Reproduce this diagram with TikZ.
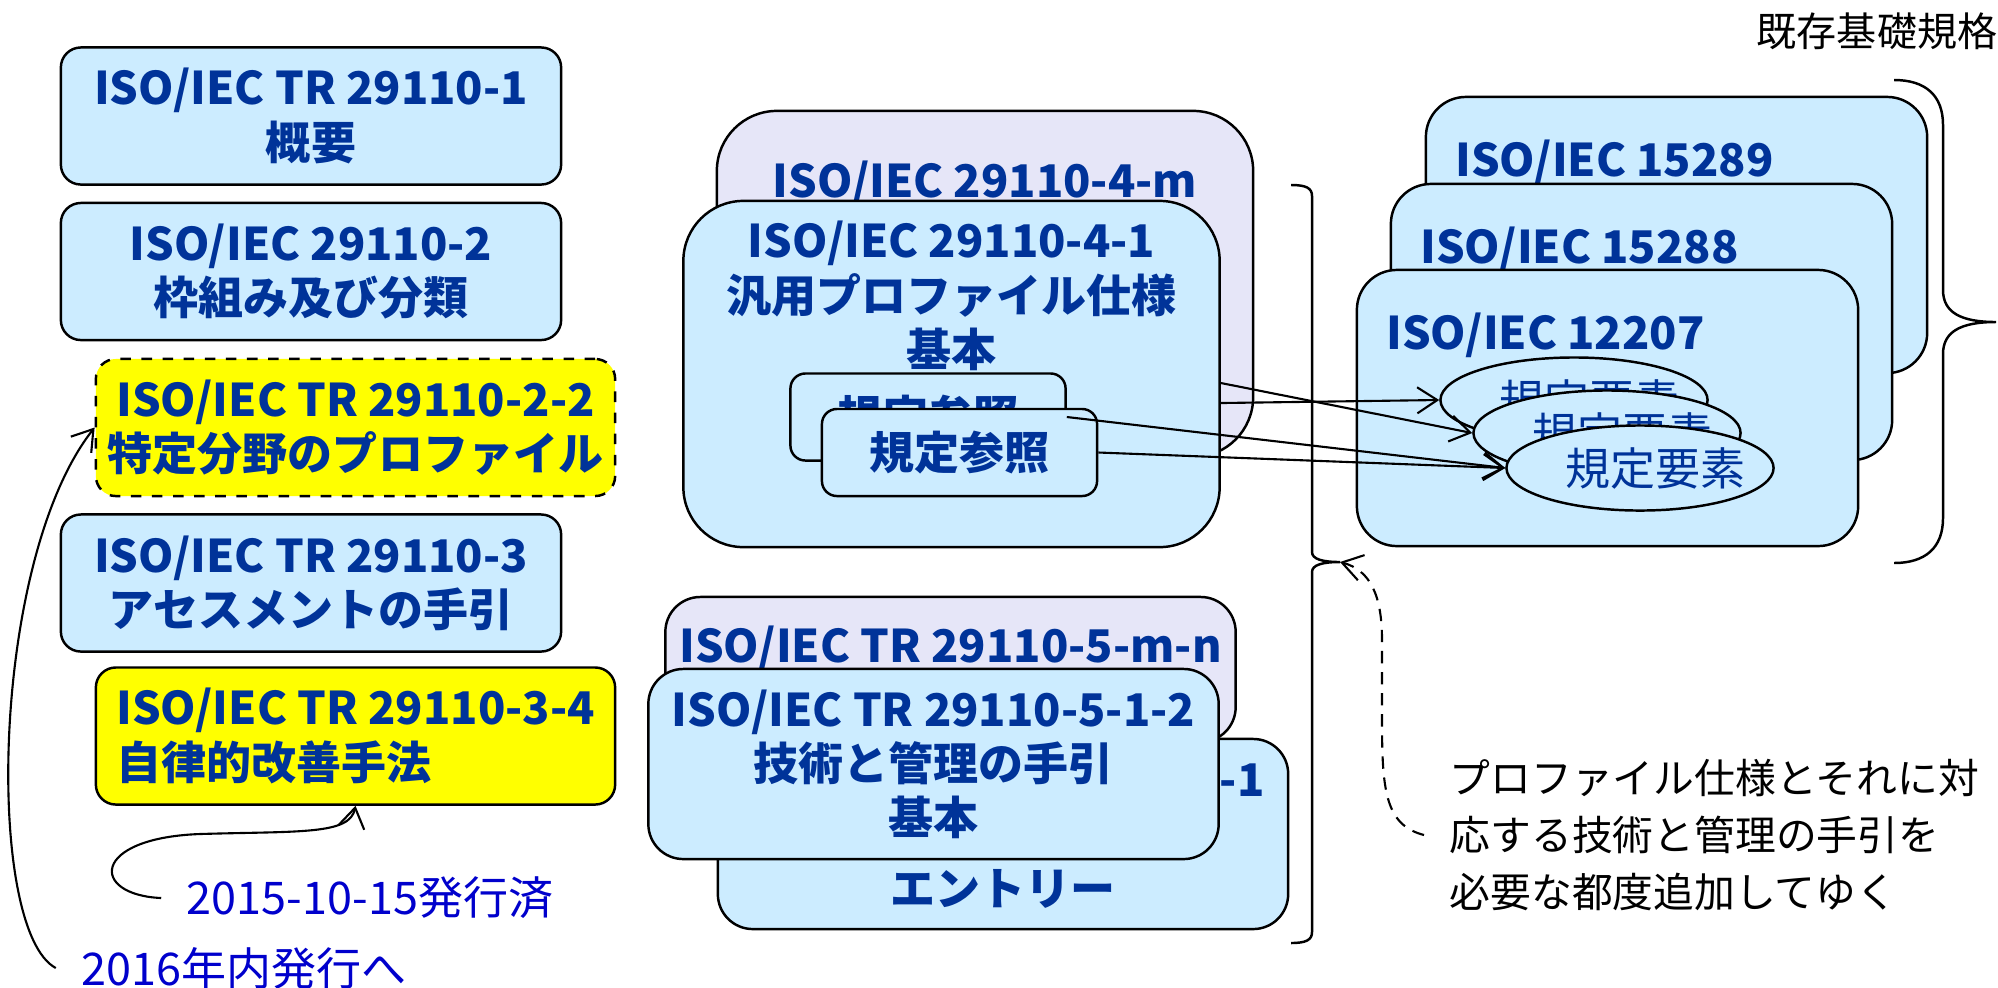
\documentclass[tikz,border=0pt]{standalone}
\usepackage{fontspec}
\setmainfont{Noto Sans CJK JP}
\usetikzlibrary{positioning,arrows.meta,shapes.geometric}

\definecolor{boxblue}{RGB}{204,236,255}
\definecolor{boxlilac}{RGB}{230,230,248}
\definecolor{boxyellow}{RGB}{255,255,0}
\definecolor{txtblue}{RGB}{0,51,153}
\definecolor{labblue}{RGB}{0,0,204}

\begin{document}
\begin{tikzpicture}[x=0.01cm,y=-0.01cm,
    boxfont/.style={font=\bfseries\fontsize{12.8}{15.4}\selectfont},
    part/.style={draw,line width=0.7pt,rounded corners=0.2cm,fill=boxblue,
      minimum width=5cm,minimum height=1.37cm,align=center,text=txtblue,boxfont},
    bigbox/.style={draw,line width=0.7pt,rounded corners=0.6cm,fill=boxblue,
      minimum width=5.36cm,minimum height=3.46cm},
    guidebox/.style={draw,line width=0.7pt,rounded corners=0.35cm,fill=boxblue,
      minimum width=5.7cm,minimum height=1.9cm,align=center,text=txtblue,boxfont},
    refbox/.style={draw,line width=0.7pt,rounded corners=0.15cm,fill=boxblue,
      minimum width=2.75cm,minimum height=0.87cm,text=txtblue,boxfont},
    stdbox/.style={draw,line width=0.7pt,rounded corners=0.4cm,fill=boxblue,
      minimum width=5.01cm,minimum height=2.76cm},
    elem/.style={draw,line width=0.7pt,ellipse,fill=boxblue,inner sep=0pt,
      minimum width=2.67cm,minimum height=0.85cm,text=txtblue,
      font=\fontsize{12.8}{15.2}\selectfont},
    boxtext/.style={align=center,inner sep=0pt,text=txtblue,boxfont},
    datelab/.style={text=labblue,inner xsep=0.25cm,inner ysep=0.05cm,
      font=\fontsize{12.8}{15.2}\selectfont},
    conn/.style={line width=0.6pt,-{Straight Barb[length=2mm,width=2.6mm]}}]
  \useasboundingbox (0,0) rectangle (1998,987);
  %% Parts 1-3
  \node[part] (iso1) at (311,116) {ISO/IEC TR 29110-1\\概要};
  \node[part] (iso2) at (311,271.5) {ISO/IEC 29110-2\\枠組み及び分類};
  \node[part,fill=boxyellow,dashed,minimum width=5.19cm] (iso22) at (355.5,427.5)
    {ISO/IEC TR 29110-2-2\\特定分野のプロファイル};
  \node[part] (iso3) at (311,583) {ISO/IEC TR 29110-3\\アセスメントの手引};
  \node[part,fill=boxyellow,minimum width=5.19cm,align=left] (iso34) at (355.5,736)
    {ISO/IEC TR 29110-3-4\\自律的改善手法};
  %% Dates
  \node[datelab] (d2015) at (370,898) {2015-10-15発行済};
  \node[datelab] (d2016) at (244,968) {2016年内発行へ};
  \draw[conn] (d2015.west) .. controls (90,895) and (90,838) .. (200,834)
    .. controls (300,831) and (350,835) .. (iso34.south);
  \draw[conn] (d2016.west) .. controls (-15,930) and (-10,560) .. (iso22.west);
  %% Part 4 profiles
  \node[bigbox,fill=boxlilac] (p4m) at (985,284) {};
  \node[boxtext,below=0.5cm of p4m.north] (t4m) {ISO/IEC 29110-4-m};
  \node[bigbox] (b41) at (951.5,374) {};
  \node[boxtext,below=0.21cm of b41.north] (t41)
    {ISO/IEC 29110-4-1\\汎用プロファイル仕様\\基本};
  \node[refbox] (sb1) at (928,417) {規定参照};
  \node[refbox] (sb2) at (959.5,452.5) {規定参照};
  %% Part 5 guides
  \node[guidebox,fill=boxlilac,minimum height=1.45cm] (p5) at (950.5,669.5) {};
  \node[boxtext,below=0.29cm of p5.north] (t5) {ISO/IEC TR 29110-5-m-n};
  \node[guidebox] (b511) at (1003,834) {ISO/IEC TR 29110-5-1-1\\ \\エントリー};
  \node[guidebox] (b512) at (933.5,764) {ISO/IEC TR 29110-5-1-2\\技術と管理の手引\\基本};
  %% Existing standards
  \node[font=\fontsize{11.4}{14}\selectfont] (kison) at (1877,31) {既存基礎規格};
  \node[stdbox] (s15289) at (1676.5,235) {};
  \node[boxtext,below right=0.43cm and 0.3cm of s15289.north west] (t15289) {ISO/IEC 15289};
  \node[stdbox] (s15288) at (1641.5,322) {};
  \node[boxtext,below right=0.43cm and 0.3cm of s15288.north west] (t15288) {ISO/IEC 15288};
  \node[stdbox] (s12207) at (1607.5,408) {};
  \node[boxtext,below right=0.43cm and 0.3cm of s12207.north west] (t12207) {ISO/IEC 12207};
  \node[elem] (e1) at (1574,400) {\hspace*{0.15cm}規定要素\hspace*{-0.15cm}};
  \node[elem] (e2) at (1607,433) {\hspace*{0.15cm}規定要素\hspace*{-0.15cm}};
  \node[elem] (e3) at (1640,468) {\hspace*{0.15cm}規定要素\hspace*{-0.15cm}};
  %% Braces
  \coordinate (brtip) at (1340,562);
  \draw[line width=0.7pt] (1291,185) .. controls (1306,185) and (1312,188) .. (1312,196)
    -- (1312,552) .. controls (1312,559) and (1322,562) .. (brtip)
    .. controls (1322,562) and (1312,565) .. (1312,572)
    -- (1312,932) .. controls (1312,940) and (1306,943) .. (1291,943);
  \draw[line width=0.7pt] (1894,80) .. controls (1925,80) and (1943,95) .. (1943,125)
    -- (1943,290) .. controls (1943,312) and (1960,322) .. (1996,322)
    .. controls (1960,322) and (1943,332) .. (1943,354)
    -- (1943,518) .. controls (1943,548) and (1925,563) .. (1894,563);
  %% References
  \draw[conn] ([yshift=-0.09cm]b41.east) -- (e2.west);
  \draw[conn] ([yshift=-0.29cm]b41.east) -- (e1.west);
  \draw[conn] (sb1.east) -- (e3.west);
  \draw[conn] (sb2.east) -- (e3.west);
  %% Note
  \node[anchor=west,align=left,inner xsep=0.25cm,
    font=\fontsize{11.6}{16.2}\selectfont] (note) at (1424,835)
    {プロファイル仕様とそれに対\\応する技術と管理の手引を\\必要な都度追加してゆく};
  \draw[conn,dash pattern=on 3.5pt off 2.5pt] (note.west) .. controls (1385,825) and (1382,790) .. (1382,720)
    -- (1382,640) .. controls (1382,595) and (1370,570) .. (brtip);
\end{tikzpicture}
\end{document}
